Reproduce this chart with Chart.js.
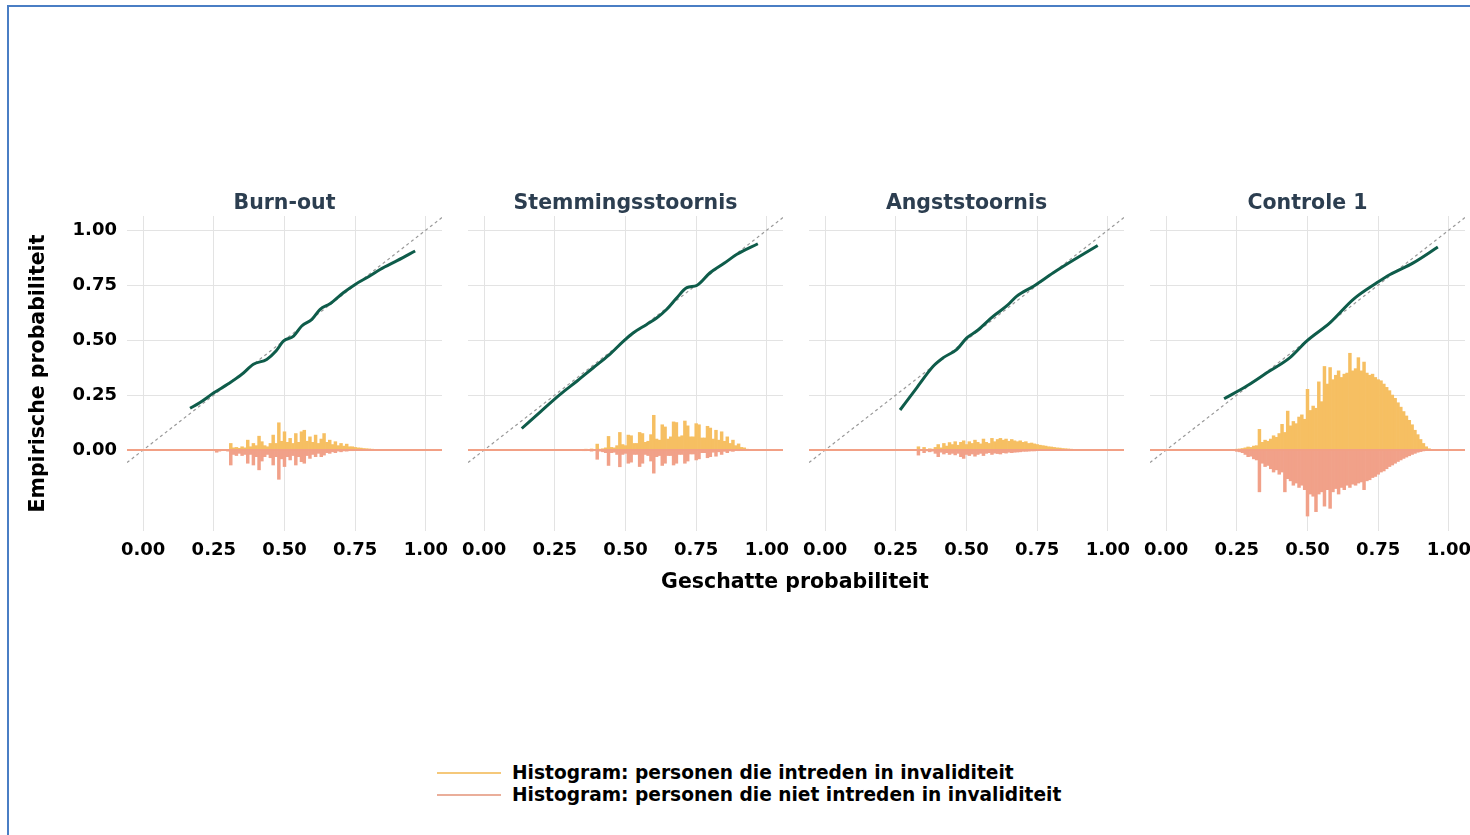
<!DOCTYPE html>
<html lang="nl">
<head>
  <meta charset="UTF-8">
  <title>Calibratie per diagnose</title>
  <script src="https://cdn.jsdelivr.net/npm/chart.js"></script>
  <style>
    body {
      margin: 0;
      width: 1470px;
      height: 835px;
      overflow: hidden;
      background: #fff;
      position: relative;
      font-family: 'DejaVu Sans', sans-serif;
    }
    .frame {
      position: absolute;
      left: 7px;
      top: 5px;
      width: 1500px;
      height: 900px;
      border-left: 2px solid #4a7ec4;
      border-top: 2px solid #4a7ec4;
    }
    .panel {
      position: absolute;
      top: 180px;
      height: 391px;
    }
    #xtitle {
      position: absolute;
      left: 545px;
      width: 500px;
      top: 569px;
      text-align: center;
      font-size: 20.5px;
      line-height: 24px;
      font-weight: bold;
      color: #000;
    }
    #legend {
      position: absolute;
      left: 437px;
      top: 762px;
      font-size: 18.6px;
      font-weight: bold;
      color: #000;
    }
    .row { height: 22px; line-height: 22px; display: flex; align-items: center; }
    .swatch { width: 64px; height: 2px; margin-right: 11px; }
  </style>
</head>
<body>
  <div class="frame"></div>
  <canvas id="p0" class="panel" style="left:20px" width="452" height="391"></canvas>
  <canvas id="p1" class="panel" style="left:438px" width="375" height="391"></canvas>
  <canvas id="p2" class="panel" style="left:779px" width="375" height="391"></canvas>
  <canvas id="p3" class="panel" style="left:1120px" width="375" height="391"></canvas>
  <div id="xtitle">Geschatte probabiliteit</div>
  <div id="legend">
    <div class="row"><span class="swatch" style="background:#f5c87a"></span>Histogram: personen die intreden in invaliditeit</div>
    <div class="row"><span class="swatch" style="background:#eaae9a"></span>Histogram: personen die niet intreden in invaliditeit</div>
  </div>

  <script>
    // histogram bins (geschatte probabiliteit)
    const bins = [0.24, 0.25, 0.26, 0.27, 0.28, 0.29,
      0.30, 0.31, 0.32, 0.33, 0.34, 0.35, 0.36, 0.37, 0.38, 0.39,
      0.40, 0.41, 0.42, 0.43, 0.44, 0.45, 0.46, 0.47, 0.48, 0.49,
      0.50, 0.51, 0.52, 0.53, 0.54, 0.55, 0.56, 0.57, 0.58, 0.59,
      0.60, 0.61, 0.62, 0.63, 0.64, 0.65, 0.66, 0.67, 0.68, 0.69,
      0.70, 0.71, 0.72, 0.73, 0.74, 0.75, 0.76, 0.77, 0.78, 0.79,
      0.80, 0.81, 0.82, 0.83, 0.84, 0.85, 0.86, 0.87, 0.88, 0.89,
      0.90, 0.91, 0.92, 0.93, 0.94];

    const panelTitles = ['Burn-out', 'Stemmingsstoornis', 'Angststoornis', 'Controle 1'];
    const tickValues = [0, 0.25, 0.5, 0.75, 1];

    // Burn-out
    const burnoutIn = [0, 0, 0.002, 0, 0, 0,
      0, 0.03, 0.01, 0.012, 0.008, 0.015, 0.01, 0.045, 0.015, 0.03,
      0.02, 0.063, 0.038, 0.02, 0.015, 0.03, 0.068, 0.03, 0.124, 0.04,
      0.083, 0.035, 0.053, 0.03, 0.075, 0.035, 0.083, 0.09, 0.04, 0.06,
      0.035, 0.068, 0.03, 0.05, 0.075, 0.035, 0.045, 0.025, 0.038, 0.02,
      0.03, 0.018, 0.027, 0.015, 0.015, 0.012, 0.01, 0.009, 0.007, 0.006,
      0.005, 0.004, 0.003, 0.002, 0.002, 0.001, 0.001, 0, 0, 0,
      0, 0, 0, 0, 0];
    const burnoutNiet = [0, 0, -0.01, -0.005, 0, 0,
      -0.005, -0.068, -0.02, -0.025, -0.015, -0.025, -0.02, -0.06, -0.02, -0.068,
      -0.03, -0.09, -0.05, -0.03, -0.02, -0.035, -0.068, -0.03, -0.133, -0.04,
      -0.075, -0.03, -0.045, -0.025, -0.068, -0.03, -0.053, -0.06, -0.025, -0.038,
      -0.02, -0.03, -0.015, -0.03, -0.023, -0.012, -0.015, -0.008, -0.012, -0.005,
      -0.008, -0.004, -0.005, -0.003, -0.003, -0.002, -0.001, -0.001, 0, 0,
      0, 0, 0, 0, 0, 0, 0, 0, 0, 0,
      0, 0, 0, 0, 0];
    const burnoutCurveX = [0.166, 0.2, 0.25, 0.3, 0.35, 0.39, 0.437, 0.47, 0.496, 0.532, 0.561, 0.597, 0.626, 0.661, 0.708, 0.75, 0.8, 0.838, 0.9, 0.962];
    const burnoutCurveY = [0.19, 0.215, 0.26, 0.3, 0.345, 0.39, 0.412, 0.45, 0.495, 0.518, 0.564, 0.594, 0.64, 0.665, 0.715, 0.753, 0.79, 0.821, 0.862, 0.905];

    // Stemmingsstoornis
    const stemmingIn = [0, 0, 0, 0, 0, 0,
      0, 0, 0, 0, 0.003, 0.002, 0.004, 0.002, 0.005, 0.003,
      0.027, 0.004, 0.006, 0.01, 0.062, 0.012, 0.01, 0.02, 0.08, 0.025,
      0.02, 0.068, 0.065, 0.03, 0.03, 0.08, 0.075, 0.035, 0.04, 0.07,
      0.158, 0.05, 0.045, 0.115, 0.105, 0.05, 0.06, 0.128, 0.125, 0.06,
      0.065, 0.132, 0.11, 0.06, 0.06, 0.12, 0.115, 0.055, 0.055, 0.108,
      0.1, 0.05, 0.09, 0.045, 0.083, 0.04, 0.06, 0.03, 0.045, 0.02,
      0.028, 0.012, 0.01, 0.004, 0.002];
    const stemmingNiet = [0, 0, 0, 0, 0, 0,
      0, 0, 0, 0, -0.002, -0.003, -0.003, -0.002, -0.005, -0.003,
      -0.042, -0.005, -0.008, -0.012, -0.07, -0.012, -0.01, -0.02, -0.076, -0.02,
      -0.015, -0.06, -0.055, -0.02, -0.02, -0.075, -0.06, -0.02, -0.025, -0.05,
      -0.105, -0.03, -0.025, -0.07, -0.06, -0.025, -0.025, -0.068, -0.06, -0.02,
      -0.02, -0.06, -0.05, -0.018, -0.018, -0.045, -0.04, -0.012, -0.012, -0.035,
      -0.03, -0.01, -0.028, -0.008, -0.02, -0.006, -0.012, -0.004, -0.006, -0.002,
      -0.003, -0.001, 0, 0, 0];
    const stemmingCurveX = [0.133, 0.2, 0.269, 0.33, 0.386, 0.44, 0.493, 0.528, 0.575, 0.61, 0.646, 0.68, 0.717, 0.752, 0.799, 0.85, 0.894, 0.968];
    const stemmingCurveY = [0.098, 0.175, 0.253, 0.315, 0.374, 0.43, 0.495, 0.533, 0.571, 0.6, 0.64, 0.69, 0.738, 0.748, 0.806, 0.85, 0.89, 0.938];

    // Angststoornis
    const angstIn = [0, 0, 0, 0, 0, 0,
      0, 0, 0, 0.015, 0.002, 0.012, 0.003, 0.006, 0.004, 0.012,
      0.025, 0.01, 0.03, 0.018, 0.034, 0.025, 0.038, 0.022, 0.035, 0.042,
      0.025, 0.038, 0.03, 0.045, 0.035, 0.028, 0.05, 0.035, 0.03, 0.053,
      0.038, 0.048, 0.053, 0.045, 0.05, 0.04, 0.048, 0.042, 0.038, 0.042,
      0.035, 0.038, 0.03, 0.032, 0.028, 0.025, 0.022, 0.02, 0.018, 0.015,
      0.014, 0.012, 0.01, 0.009, 0.007, 0.006, 0.005, 0.004, 0.003, 0.002,
      0.001, 0, 0, 0, 0];
    const angstNiet = [0, 0, 0, 0, 0, 0,
      0, 0, 0, -0.023, -0.003, -0.012, -0.004, -0.008, -0.005, -0.015,
      -0.03, -0.01, -0.018, -0.012, -0.02, -0.015, -0.022, -0.015, -0.03, -0.038,
      -0.02, -0.025, -0.018, -0.028, -0.02, -0.015, -0.025, -0.015, -0.012, -0.02,
      -0.014, -0.016, -0.018, -0.012, -0.014, -0.01, -0.012, -0.01, -0.009, -0.008,
      -0.006, -0.006, -0.005, -0.004, -0.004, -0.003, -0.002, -0.002, -0.001, 0,
      0, 0, 0, 0, 0, 0, 0, 0, 0, 0,
      0, 0, 0, 0, 0];
    const angstCurveX = [0.265, 0.324, 0.383, 0.418, 0.466, 0.501, 0.536, 0.595, 0.642, 0.678, 0.737, 0.807, 0.88, 0.964];
    const angstCurveY = [0.182, 0.283, 0.382, 0.42, 0.458, 0.51, 0.541, 0.609, 0.655, 0.7, 0.745, 0.806, 0.865, 0.93];

    // Controle 1
    const controleIn = [0.002, 0.004, 0.005, 0.007, 0.01, 0.014,
      0.012, 0.018, 0.02, 0.094, 0.035, 0.045, 0.04, 0.05, 0.065, 0.058,
      0.075, 0.117, 0.08, 0.177, 0.11, 0.13, 0.12, 0.15, 0.16, 0.14,
      0.276, 0.18, 0.2, 0.19, 0.31, 0.22, 0.38, 0.3, 0.375, 0.32,
      0.34, 0.36, 0.33, 0.345, 0.35, 0.44, 0.36, 0.37, 0.42, 0.36,
      0.4, 0.35, 0.34, 0.345, 0.33, 0.32, 0.315, 0.3, 0.285, 0.27,
      0.25, 0.235, 0.215, 0.195, 0.175, 0.155, 0.135, 0.115, 0.09, 0.07,
      0.048, 0.03, 0.015, 0.006, 0.002];
    const controleNiet = [-0.003, -0.006, -0.008, -0.012, -0.02, -0.03,
      -0.028, -0.04, -0.045, -0.19, -0.06, -0.075, -0.07, -0.085, -0.1, -0.09,
      -0.11, -0.1, -0.19, -0.13, -0.14, -0.16, -0.15, -0.17, -0.16, -0.18,
      -0.3, -0.2, -0.21, -0.28, -0.2, -0.19, -0.255, -0.18, -0.265, -0.19,
      -0.175, -0.2, -0.17, -0.18, -0.16, -0.17, -0.155, -0.16, -0.15, -0.145,
      -0.18, -0.14, -0.135, -0.125, -0.12, -0.11, -0.1, -0.095, -0.085, -0.075,
      -0.068, -0.06, -0.052, -0.045, -0.038, -0.032, -0.026, -0.02, -0.015, -0.01,
      -0.007, -0.004, -0.002, -0.001, 0];
    const controleCurveX = [0.205, 0.285, 0.356, 0.438, 0.497, 0.58, 0.662, 0.745, 0.792, 0.874, 0.961];
    const controleCurveY = [0.233, 0.291, 0.351, 0.42, 0.495, 0.579, 0.685, 0.76, 0.798, 0.851, 0.923];

    // axis limits (ggplot style expansion)
    const xMin = -0.057, xMax = 1.057;
    const yMin = -0.368, yMax = 1.064;

    const panels = [
      { title: panelTitles[0], inn: burnoutIn, niet: burnoutNiet, cx: burnoutCurveX, cy: burnoutCurveY },
      { title: panelTitles[1], inn: stemmingIn, niet: stemmingNiet, cx: stemmingCurveX, cy: stemmingCurveY },
      { title: panelTitles[2], inn: angstIn, niet: angstNiet, cx: angstCurveX, cy: angstCurveY },
      { title: panelTitles[3], inn: controleIn, niet: controleNiet, cx: controleCurveX, cy: controleCurveY }
    ];

    Chart.defaults.font.family = "'DejaVu Sans', sans-serif";

    const fixTicks = (scale) => {
      scale.ticks = tickValues.map((v) => ({ value: v }));
    };

    panels.forEach((p, i) => {
      const first = i === 0;
      new Chart(document.getElementById('p' + i), {
        type: 'bar',
        data: {
          datasets: [
            {
              type: 'line',
              data: p.cx.map((x, k) => ({ x, y: p.cy[k] })),
              borderColor: '#0e5c4a',
              borderWidth: 3,
              pointRadius: 0,
              cubicInterpolationMode: 'monotone',
              order: 0
            },
            {
              type: 'line',
              data: [{ x: xMin, y: 0 }, { x: xMax, y: 0 }],
              borderColor: '#f2a085',
              borderWidth: 2,
              pointRadius: 0,
              order: 1
            },
            {
              data: bins.map((b, k) => ({ x: b, y: p.inn[k] })),
              backgroundColor: '#f6bf62',
              grouped: false,
              barPercentage: 1,
              categoryPercentage: 1,
              order: 2
            },
            {
              data: bins.map((b, k) => ({ x: b, y: p.niet[k] })),
              backgroundColor: '#f1a189',
              grouped: false,
              barPercentage: 1,
              categoryPercentage: 1,
              order: 3
            },
            {
              type: 'line',
              data: [{ x: xMin, y: xMin }, { x: xMax, y: xMax }],
              borderColor: '#999999',
              borderWidth: 1.2,
              borderDash: [3, 3],
              pointRadius: 0,
              order: 4
            }
          ]
        },
        options: {
          responsive: false,
          animation: false,
          layout: { padding: { left: first ? 0 : 30, right: 30, top: 0, bottom: 0 } },
          plugins: {
            legend: { display: false },
            tooltip: { enabled: false },
            title: {
              display: true,
              text: p.title,
              fullSize: false,
              color: '#2c3e50',
              font: { size: 20.5, weight: 'bold' },
              padding: { top: 11, bottom: 0.4 }
            }
          },
          scales: {
            x: {
              type: 'linear',
              min: xMin,
              max: xMax,
              offset: false,
              afterBuildTicks: fixTicks,
              afterFit: (s) => { s.height = 40; },
              grid: { color: '#e3e3e3', lineWidth: 1, drawTicks: false, offset: false },
              border: { display: false },
              ticks: {
                color: '#000',
                padding: 9,
                maxRotation: 0,
                font: { size: 18, weight: 'bold' },
                callback: (v) => v.toFixed(2)
              }
            },
            y: {
              type: 'linear',
              min: yMin,
              max: yMax,
              afterBuildTicks: fixTicks,
              afterFit: (s) => { s.width = first ? 107 : 0; },
              grid: { color: '#e3e3e3', lineWidth: 1, drawTicks: false },
              border: { display: false },
              title: {
                display: first,
                text: 'Empirische probabiliteit',
                color: '#000',
                font: { size: 20.5, weight: 'bold' },
                padding: { top: 6, bottom: 0 }
              },
              ticks: {
                display: first,
                color: '#000',
                padding: 10,
                font: { size: 18, weight: 'bold' },
                callback: (v) => v.toFixed(2)
              }
            }
          }
        }
      });
    });
  </script>
</body>
</html>
